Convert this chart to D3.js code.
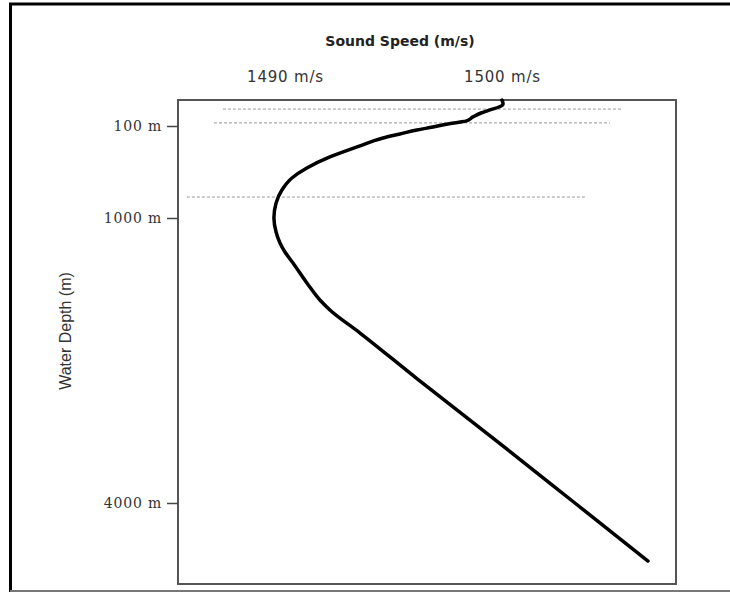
<!DOCTYPE html>
<html>
<head>
<meta charset="utf-8">
<script src="https://cdn.jsdelivr.net/npm/d3@7"></script>
<style>
  body { margin: 0; background: #fff; }
  svg { display: block; }
</style>
</head>
<body>
<div id="chart"></div>
<script>
// sound speed profile
const depths = [0, 15, 27, 38, 50, 65, 81, 85, 92, 110, 139, 178, 217, 305, 403, 511, 609, 726, 853, 1000, 1147, 1263, 1358, 1474, 1684, 1863, 1968, 2211, 2691, 3474, 4000, 4609];
const speeds = [1500.0, 1500.05, 1499.86, 1499.45, 1499.03, 1498.66, 1498.34, 1498.07, 1497.51, 1496.82, 1496.08, 1495.3, 1494.52, 1493.32, 1492.07, 1491.01, 1490.32, 1489.86, 1489.59, 1489.49, 1489.59, 1489.77, 1490.0, 1490.37, 1491.01, 1491.61, 1492.07, 1493.46, 1496.08, 1500.46, 1503.36, 1506.73];

const depthTicks = [100, 1000, 4000];
const speedTicks = [1490, 1500];

// dashed layer markers
const layerDepths = [35, 88, 795];
const layerStart = [1487.14, 1486.73, 1485.48];
const layerEnd = [1505.53, 1504.98, 1503.83];

const W = 730, H = 592;
const box = {left: 178, right: 676, top: 100, bottom: 584};

let svg = d3.select('#chart')
  .append('svg')
    .attr('width', W)
    .attr('height', H);

// outer frame (left, top, bottom only)
svg.append('line')
  .attr('x1', 10.5).attr('y1', 3).attr('x2', 10.5).attr('y2', H)
  .attr('stroke', '#000').attr('stroke-width', 3);
svg.append('line')
  .attr('x1', 9).attr('y1', 4).attr('x2', W).attr('y2', 4)
  .attr('stroke', '#000').attr('stroke-width', 3);
svg.append('line')
  .attr('x1', 10).attr('y1', 591).attr('x2', W).attr('y2', 591)
  .attr('stroke', '#777').attr('stroke-width', 2);

// scales - depth axis is piecewise (schematic)
let x = d3.scaleLinear()
  .domain([1485.07, 1508.02])
  .range([box.left, box.right]);

let y = d3.scaleLinear()
  .domain([0, 100, 1000, 4000, 4850])
  .range([box.top, 126, 218, 503, box.bottom]);

// plot box
svg.append('rect')
  .attr('x', box.left)
  .attr('y', box.top)
  .attr('width', box.right - box.left)
  .attr('height', box.bottom - box.top)
  .attr('fill', 'none')
  .attr('stroke', '#555')
  .attr('stroke-width', 2);

// y axis
let yAxis = d3.axisLeft(y)
  .tickValues(depthTicks)
  .tickSize(11)
  .tickPadding(5)
  .tickFormat(d => d + ' m');

let yAxisG = svg.append('g')
  .attr('transform', `translate(${box.left},0)`)
  .call(yAxis);
yAxisG.select('.domain').remove();
yAxisG.selectAll('.tick line').attr('stroke', '#444').attr('stroke-width', 1.5);
yAxisG.selectAll('.tick text')
  .attr('fill', '#333')
  .style('font-family', '"DejaVu Serif", serif')
  .style('font-size', '14px')
  .style('letter-spacing', '0.8px');

// x axis, labels only
let xAxis = d3.axisTop(x)
  .tickValues(speedTicks)
  .tickSize(0)
  .tickPadding(18)
  .tickFormat(d => d + ' m/s');

let xAxisG = svg.append('g')
  .attr('transform', `translate(0,${box.top})`)
  .call(xAxis);
xAxisG.select('.domain').remove();
xAxisG.selectAll('.tick text')
  .attr('fill', '#333')
  .style('font-family', '"DejaVu Sans", Verdana, sans-serif')
  .style('font-size', '15px')
  .style('letter-spacing', '0.8px');

// titles
svg.append('text')
  .attr('x', 400)
  .attr('y', 46)
  .attr('text-anchor', 'middle')
  .attr('fill', '#222')
  .style('font-family', '"DejaVu Sans", Verdana, sans-serif')
  .style('font-size', '14px')
  .style('font-weight', 'bold')
  .text('Sound Speed (m/s)');

svg.append('text')
  .attr('transform', 'translate(71,331) rotate(-90)')
  .attr('text-anchor', 'middle')
  .attr('fill', '#333')
  .style('font-family', '"Liberation Sans", Arial, sans-serif')
  .style('font-size', '16px')
  .text('Water Depth (m)');

// dashed layer lines
let layers = svg.append('g').attr('id', 'layers');
layers.selectAll('line')
  .data(layerDepths)
  .enter()
  .append('line')
    .attr('x1', (d, i) => x(layerStart[i]))
    .attr('x2', (d, i) => x(layerEnd[i]))
    .attr('y1', d => y(d))
    .attr('y2', d => y(d))
    .attr('stroke', '#999')
    .attr('stroke-width', 1)
    .attr('stroke-dasharray', '3,2');

// profile line
let profile = depths.map((d, i) => [speeds[i], d]);
let valueline = d3.line()
  .x(d => x(d[0]))
  .y(d => y(d[1]))
  .curve(d3.curveMonotoneY);

svg.append('path')
  .attr('d', valueline(profile))
  .attr('fill', 'none')
  .attr('stroke', '#000')
  .attr('stroke-width', 3.5)
  .attr('stroke-linecap', 'round')
  .attr('stroke-linejoin', 'round');
</script>
</body>
</html>
